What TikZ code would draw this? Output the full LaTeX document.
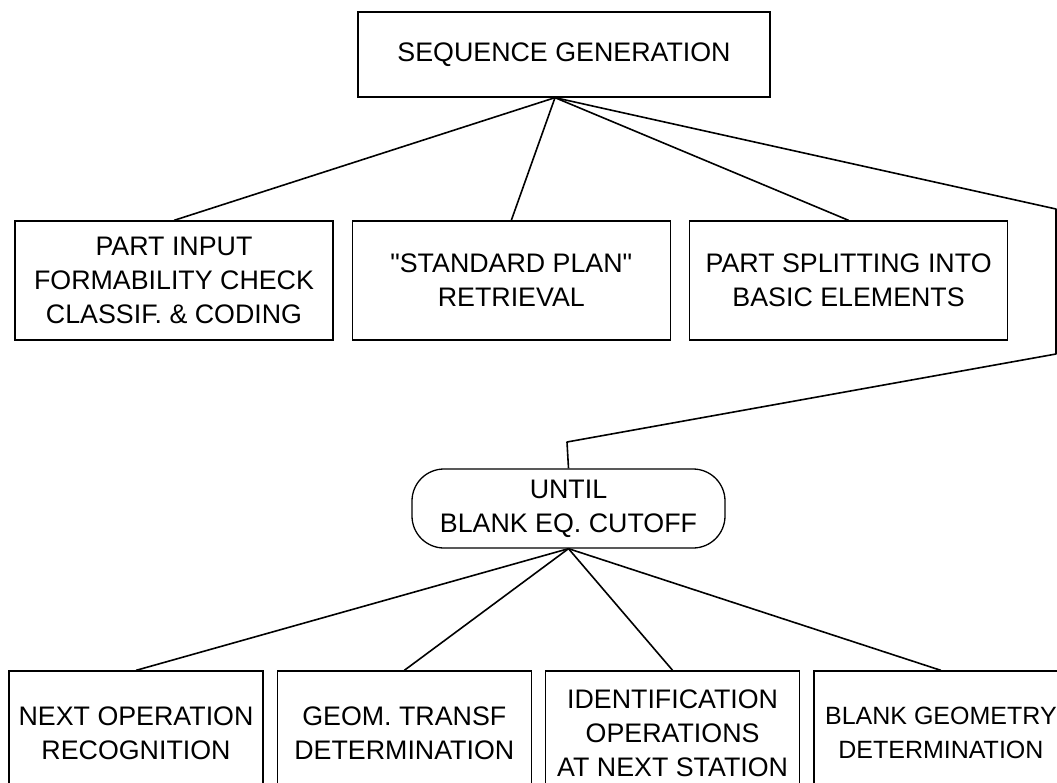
\documentclass[tikz,border=0pt]{standalone}
\usepackage{fontspec}
\setmainfont{Liberation Sans}[Ligatures=TeXOff]
\usetikzlibrary{positioning}

\begin{document}
\begin{tikzpicture}[x=1pt, y=-1pt, line width=1.3pt]
    \tikzstyle{block} = [rectangle, draw, align=center, inner sep=0pt, font=\fontsize{26.8}{34}\selectfont]
    \tikzstyle{upper} = [block, minimum width=318pt, minimum height=119pt]
    \tikzstyle{lower} = [block, minimum width=254pt, minimum height=124pt]
    \tikzstyle{link} = [line width=1.6pt, line join=round]

    \useasboundingbox (0,0) rectangle (1057,782);

    \node[block, minimum width=412pt, minimum height=85pt] (seq) at (564,54.5) {SEQUENCE GENERATION};

    \node[upper] (input) at (174,280.5) {PART INPUT\\FORMABILITY CHECK\\CLASSIF. \& CODING};
    \node[upper, right=18pt of input] (plan) {"STANDARD PLAN"\\RETRIEVAL};
    \node[upper, right=18pt of plan] (split) {PART SPLITTING INTO\\BASIC ELEMENTS};

    \node[block, rounded corners=32pt, minimum width=313pt, minimum height=79pt] (until) at (568.5,508.5) {UNTIL\\BLANK EQ. CUTOFF};

    \node[lower] (next) at (136,733) {NEXT OPERATION\\RECOGNITION};
    \node[lower, right=13pt of next] (geom) {GEOM. TRANSF\\DETERMINATION};
    \node[lower, right=13pt of geom] (ident) {IDENTIFICATION\\OPERATIONS\\AT NEXT STATION};
    \node[lower, right=13pt of ident, font=\fontsize{25}{34}\selectfont] (blank) {BLANK GEOMETRY\\DETERMINATION};

    % loop back round the right side
    \coordinate (hub) at ([xshift=-9pt]seq.south);
    \coordinate (bendA) at (1056,209);
    \coordinate (bendB) at (1056,354);
    \coordinate (bendC) at (567,442);

    \foreach \n in {input, plan, split}
        \draw[link] (hub) -- (\n.north);
    \draw[link] (hub) -- (bendA) -- (bendB) -- (bendC) -- (until.north);

    \foreach \n in {next, geom, ident, blank}
        \draw[link] (until.south) -- (\n.north);
\end{tikzpicture}
\end{document}
